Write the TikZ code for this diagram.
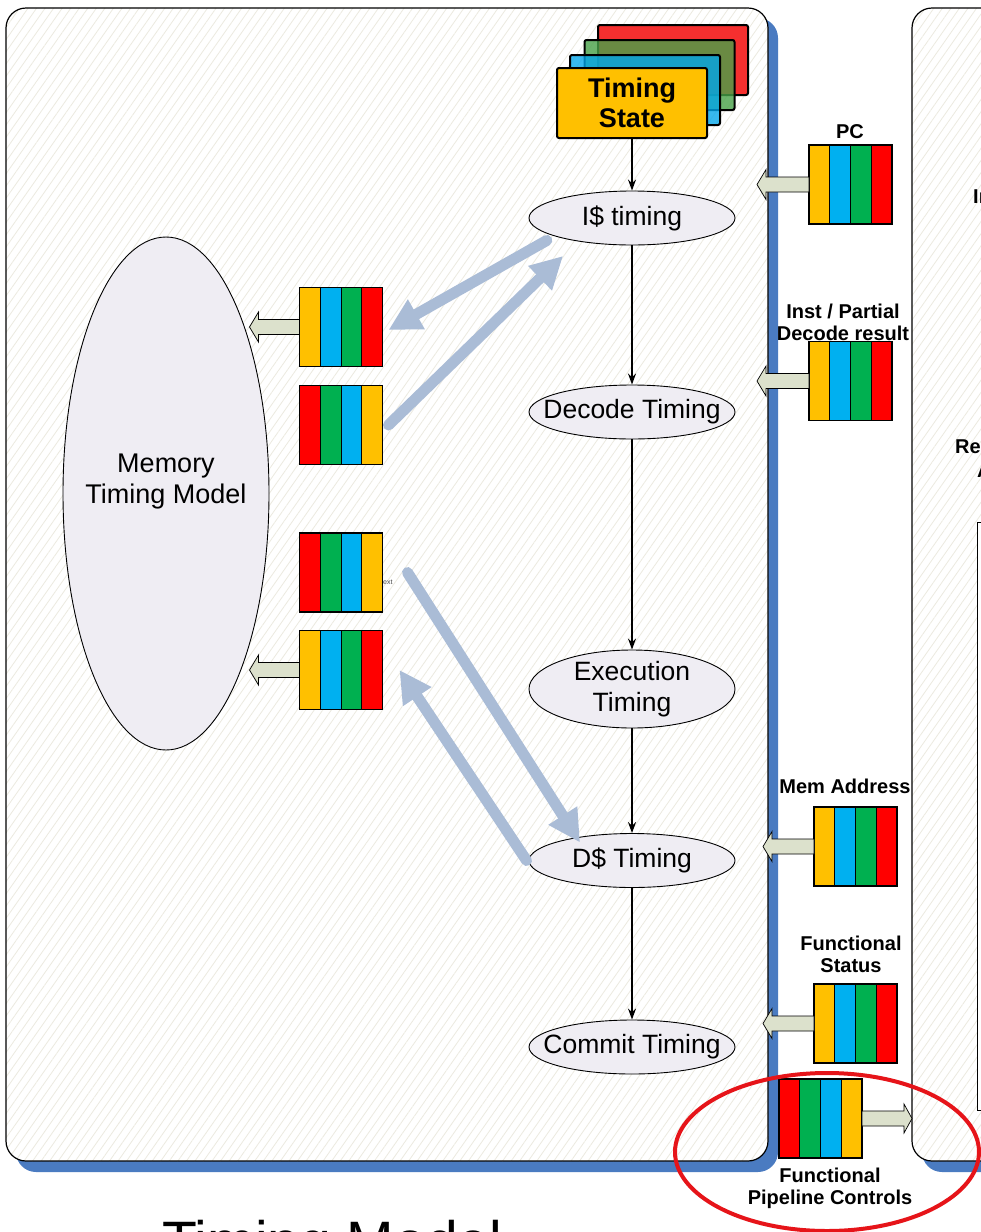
\documentclass[tikz,border=0pt]{standalone}
\usepackage{fontspec}
\setmainfont{Liberation Sans}
\usetikzlibrary{arrows.meta,calc,shapes.geometric,patterns.meta}

\definecolor{barY}{HTML}{FFC000}
\definecolor{barB}{HTML}{00B0F0}
\definecolor{barG}{HTML}{00B050}
\definecolor{barR}{HTML}{FF0000}
\definecolor{panelblue}{HTML}{4A7BC1}
\definecolor{hatch}{HTML}{ECEAE0}
\definecolor{lavender}{HTML}{EFEDF3}
\definecolor{busblue}{HTML}{AABCD6}
\definecolor{blockfill}{HTML}{DCE1CC}
\definecolor{stackred}{HTML}{F52F2F}
\definecolor{stackgreen}{RGB}{72,161,72}
\definecolor{stackblue}{RGB}{0,166,235}
\definecolor{focusred}{RGB}{230,20,25}

\tikzset{
  panel/.style={rounded corners=20, preaction={fill=white},
    preaction={pattern={Lines[angle=55,distance=7pt,line width=0.8pt]}, pattern color=hatch},
    draw=black, line width=1.2},
  panelshadow/.style={rounded corners=20, fill=panelblue},
  stackcard/.style={draw=black, line width=2, rounded corners=2, minimum width=150,
    minimum height=70, inner sep=0, outer sep=0},
  stage/.style={ellipse, draw=black, line width=0.9, fill=lavender, minimum width=206,
    minimum height=54, inner xsep=-24pt, inner ysep=-10pt,
    font=\fontsize{26.5}{31}\selectfont, align=center},
  flow/.style={draw=black, line width=1.4, -{Stealth[length=11pt,width=8pt]}},
  bus/.style={draw=busblue, line width=11, line cap=round, -{Triangle[length=32pt,width=32pt]}},
  barframe/.style={minimum width=83, minimum height=79, inner sep=0, outer sep=0},
  lbl/.style={font=\bfseries\fontsize{20}{22}\selectfont, align=center, inner sep=0},
  blockarrow/.style={fill=blockfill, draw=black, line width=0.7},
}

% four-stripe register: name, centre, stripe colours from left to right
\newcommand\regbar[6]{%
  \node[barframe] (#1) at #2 {};
  \foreach \c [count=\k from 0] in {#3,#4,#5,#6}
    \fill[\c] ($(#1.north west)+(\k*20.75,0)$) rectangle ++(20.75,79);
  \foreach \k in {1,2,3}
    \draw[line width=0.9] ($(#1.north west)+(\k*20.75,0)$) -- ++(0,79);
  \draw[line width=1.1] (#1.north west) rectangle (#1.south east);
}
% block arrow leaving a register to the left / right: node, length
\newcommand\leftblock[2]{%
  \filldraw[blockarrow] (#1.west) ++(0,-7.5) -- ++(-#2+9,0) -- ++(0,-7.5)
    -- ++(-9,15) -- ++(9,15) -- ++(0,-7.5) -- ++(#2-9,0) -- cycle;}
\newcommand\rightblock[2]{%
  \filldraw[blockarrow] (#1.east) ++(0,-7.5) -- ++(#2-8,0) -- ++(0,-7)
    -- ++(8,14.5) -- ++(-8,14.5) -- ++(0,-7) -- ++(-#2+8,0) -- cycle;}

\begin{document}
\begin{tikzpicture}[x=1pt,y=-1pt]
\useasboundingbox (0,0) rectangle (981,1232);
\clip (0,0) rectangle (981,1232);
\fill[white] (0,0) rectangle (981,1232);

% panels with their blue shadows
\fill[panelshadow] (16,18) rectangle (778,1172);
\path[panel] (6,8) rectangle (768,1161);
\fill[panelshadow] (922,18) rectangle (1160,1172);
\path[panel] (912,8) rectangle (1150,1161);
\draw[fill=white, line width=1] (977,522) rectangle (1100,1110);
\node[lbl, anchor=west] (fnIn) at (973,197) {In};
\node[lbl, anchor=west] (fnRe) at (955,447) {Re};
\node[lbl, anchor=west] (fnA) at (977,471) {A};

% memory model
\node[ellipse, draw=black, line width=0.9, fill=lavender, minimum width=206,
      minimum height=513, inner sep=0] (mem) at (166,493.5) {};
\node[font=\fontsize{27}{31}\selectfont, align=center, inner sep=0] (memtext) at (166,482)
  {Memory\\Timing Model};

% timing state stack
\node[stackcard, fill=stackred] (tsr) at (673,60) {};
\node[stackcard, fill=stackgreen, fill opacity=0.8] (tsg) at (659.5,75) {};
\node[stackcard, fill=stackblue, fill opacity=0.78] (tsb) at (645,90) {};
\node[stackcard, fill=barY, font=\bfseries\fontsize{27}{30}\selectfont, align=center]
  (tstate) at (632,103) {Timing\\State};

% pipeline stages
\node[stage] (itim) at (632,218) {I\$ timing};
\node[stage] (dtim) at (632,412) {Decode Timing};
\node[stage, minimum height=78] (etim) at (632,689) {Execution\\Timing};
\node[stage] (dctim) at (632,860.5) {D\$ Timing};
\node[stage] (ctim) at (632,1047) {Commit Timing};

\draw[flow] (tstate) -- (itim);
\draw[flow] (itim) -- (dtim);
\draw[flow] (dtim) -- (etim);
\draw[flow] (etim) -- (dctim);
\draw[flow] (dctim) -- (ctim);

% registers
\regbar{memreqI}{(341,327)}{barY}{barB}{barG}{barR}
\regbar{memrespI}{(341,425)}{barR}{barG}{barB}{barY}
\regbar{memrespD}{(341,572.5)}{barR}{barG}{barB}{barY}
\regbar{memreqD}{(341,670)}{barY}{barB}{barG}{barR}
\regbar{pcbar}{(850.5,184.5)}{barY}{barB}{barG}{barR}
\regbar{instbar}{(850.5,381)}{barY}{barB}{barG}{barR}
\regbar{addrbar}{(855.5,846.5)}{barY}{barB}{barG}{barR}
\regbar{statbar}{(855.5,1023.5)}{barY}{barB}{barG}{barR}
\regbar{ctrlbar}{(820.5,1118.5)}{barR}{barG}{barB}{barY}

\leftblock{memreqI}{50}
\leftblock{memreqD}{50}
\leftblock{pcbar}{52}
\leftblock{instbar}{52}
\leftblock{addrbar}{51}
\leftblock{statbar}{51}
\rightblock{ctrlbar}{50}

\node[font=\fontsize{7}{8}\selectfont, text=black!70, anchor=west, inner sep=0] (extnote)
  at (383,582) {ext};

% register labels
\node[lbl] (pclbl) at (850,132) {PC};
\node[lbl] (instlbl) at (843,322) {Inst / Partial\\Decode result};
\node[lbl] (addrlbl) at (845,786) {Mem Address};
\node[lbl] (statlbl) at (851,954) {Functional\\Status};
\node[lbl] (ctrllbl) at (830,1188) {Functional\\Pipeline Controls};

% memory traffic
\draw[bus] ([xshift=-12pt,yshift=-3pt]itim.south west) -- ([xshift=6pt,yshift=-3pt]memreqI.east);
\draw[bus] ([xshift=6pt]memrespI.east) -- ([xshift=-69pt,yshift=-38pt]itim.center);
\draw[bus] ([xshift=25pt]memrespD.east) -- ([xshift=-52pt,yshift=18pt]dctim.center);
\draw[bus] ([xshift=-2pt]dctim.west) -- ([xshift=17pt]memreqD.east);

% highlight
\node[ellipse, draw=focusred, line width=4, minimum width=304, minimum height=158,
      inner sep=0] (focus) at (827,1152) {};

\node[anchor=base west, inner sep=0, font=\fontsize{57}{62}\selectfont] (title)
  at (162,1261) {Timing Model};
\end{tikzpicture}
\end{document}
